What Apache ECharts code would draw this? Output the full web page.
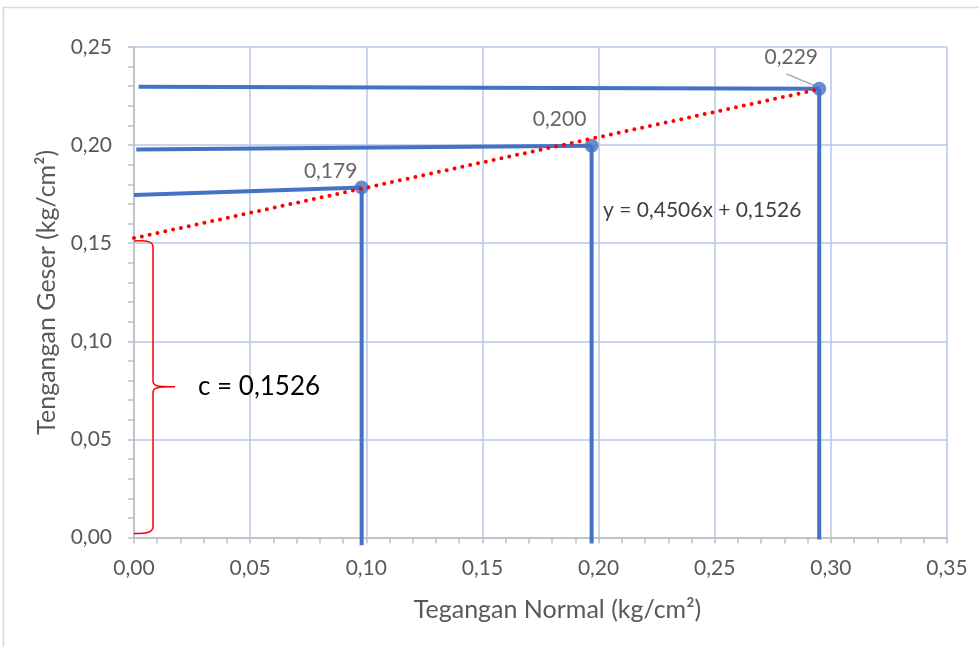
<!DOCTYPE html>
<html>
<head>
<meta charset="utf-8">
<script src="https://cdn.jsdelivr.net/npm/echarts@6/dist/echarts.min.js"></script>
<style>
  html, body { margin: 0; padding: 0; background: #fff; }
  #chart { width: 979px; height: 647px; }
</style>
</head>
<body>
<div id="chart"></div>
<script>
// titik data (tegangan normal, tegangan geser)
var pointX = [0.098, 0.197, 0.295];
var pointY = [0.1784, 0.1997, 0.2287];
var pointLabels = ['0,179', '0,200', '0,229'];
// garis bantu horizontal mulai dari sumbu y
var hStartX = [0.0, 0.001, 0.002];
var hStartY = [0.1746, 0.1977, 0.2297];
// garis bantu vertikal turun sampai sedikit di bawah sumbu x
var vEndY = [-0.004, -0.003, -0.001];
// garis trend (linear)
var trendX = [0.0, 0.295];
var trendY = [0.1526, 0.2285];
// kurung kurawal untuk c
var braceRange = [0.0025, 0.1526];
var cText = 'c = 0,1526';
var eqText = 'y = 0,4506x + 0,1526';
// garis penunjuk label 0,229
var leader = [[0.2808, 0.2363], [0.2933, 0.2302]];

var blue = '#4472C4';
var fontName = 'Lato, "Open Sans", sans-serif';
var comma = function (v) { return v.toFixed(2).replace('.', ','); };

var chart = echarts.init(document.getElementById('chart'));

var series = [];
for (var i = 0; i < pointX.length; i++) {
    series.push({
        type: 'line', silent: true, symbol: 'none', clip: false, z: 2,
        lineStyle: { color: blue, width: 4 },
        data: [[hStartX[i], hStartY[i]], [pointX[i], pointY[i]]]
    });
    series.push({
        type: 'line', silent: true, symbol: 'none', clip: false, z: 2,
        lineStyle: { color: blue, width: 4 },
        data: [[pointX[i], pointY[i]], [pointX[i], vEndY[i]]]
    });
}
// titik dengan label
var labelOffsets = [[-31, -16], [-32, -26], [-28, -32]];
series.push({
    type: 'scatter', symbol: 'circle', symbolSize: 14, z: 3,
    itemStyle: { color: blue },
    data: pointX.map(function (x, i) {
        return {
            value: [x, pointY[i]],
            label: {
                show: true, position: 'inside', offset: labelOffsets[i],
                formatter: pointLabels[i], color: '#404040', fontSize: 21, fontFamily: fontName
            }
        };
    })
});
// garis penunjuk
series.push({
    type: 'line', silent: true, symbol: 'none', z: 3,
    lineStyle: { color: '#a6a6a6', width: 1.5 },
    data: leader
});
// trendline
series.push({
    type: 'line', silent: true, symbol: 'none', z: 5, clip: false,
    lineStyle: { color: '#ff0000', width: 4, type: [0, 8], cap: 'round' },
    data: trendX.map(function (x, i) { return [x, trendY[i]]; })
});
// kurung kurawal + teks c
series.push({
    type: 'custom', silent: true, z: 4,
    data: [[0, braceRange[0], braceRange[1]]],
    renderItem: function (params, api) {
        var top = api.coord([api.value(0), api.value(2)]);
        var bot = api.coord([api.value(0), api.value(1)]);
        var x0 = top[0], yt = top[1] + 3, yb = bot[1];
        var ym = (yt + yb) / 2;
        var s = x0 + 19, t = x0 + 41;
        var d = 'M' + x0 + ',' + yt +
            ' C' + (x0 + 15) + ',' + (yt - 1) + ' ' + s + ',' + (yt + 1) + ' ' + s + ',' + (yt + 6) +
            ' L' + s + ',' + (ym - 6) +
            ' C' + s + ',' + (ym - 1) + ' ' + (s + 3) + ',' + ym + ' ' + t + ',' + ym +
            ' C' + (s + 3) + ',' + ym + ' ' + s + ',' + (ym + 1) + ' ' + s + ',' + (ym + 6) +
            ' L' + s + ',' + (yb - 6) +
            ' C' + s + ',' + (yb - 1) + ' ' + (x0 + 15) + ',' + (yb + 1) + ' ' + x0 + ',' + (yb + 1);
        return {
            type: 'group',
            children: [{
                type: 'path',
                shape: { pathData: d },
                style: { fill: null, stroke: '#ff0000', lineWidth: 1.5 }
            }, {
                type: 'text',
                style: {
                    text: cText, x: t + 23, y: ym, verticalAlign: 'middle',
                    fill: '#000', fontSize: 26, fontFamily: fontName
                }
            }]
        };
    }
});

var axisText = { color: '#595959', fontSize: 21, fontFamily: fontName };
var nameText = { color: '#595959', fontSize: 25, fontFamily: fontName };

chart.setOption({
    backgroundColor: '#fff',
    animation: false,
    grid: { left: 134, right: 32, top: 47, bottom: 109.5 },
    xAxis: {
        type: 'value', min: 0, max: 0.35, interval: 0.05,
        name: 'Tegangan Normal (kg/cm²)', nameLocation: 'middle', nameGap: 60,
        nameTextStyle: Object.assign({ padding: [0, 0, 0, 34] }, nameText),
        axisLine: { show: true, onZero: false, lineStyle: { color: '#bfbfbf', width: 1.5 } },
        axisTick: { show: true, length: 6, lineStyle: { color: '#bfbfbf', width: 1.5 } },
        minorTick: { show: true, splitNumber: 5, length: 6, lineStyle: { color: '#bfbfbf', width: 1.5 } },
        axisLabel: Object.assign({ margin: 20, formatter: comma }, axisText),
        splitLine: { show: true, lineStyle: { color: '#b4c7e7', width: 1.5 } }
    },
    yAxis: {
        type: 'value', min: 0, max: 0.25, interval: 0.05,
        name: 'Tengangan Geser (kg/cm²)', nameLocation: 'middle', nameGap: 74,
        nameTextStyle: nameText,
        axisLine: { show: true, onZero: false, lineStyle: { color: '#bfbfbf', width: 1.5 } },
        axisTick: { show: true, length: 6, lineStyle: { color: '#bfbfbf', width: 1.5 } },
        minorTick: { show: true, splitNumber: 5, length: 6, lineStyle: { color: '#bfbfbf', width: 1.5 } },
        axisLabel: Object.assign({ margin: 22, formatter: comma }, axisText),
        splitLine: { show: true, lineStyle: { color: '#b4c7e7', width: 1.5 } }
    },
    graphic: [{
        type: 'rect', silent: true, z: -10,
        shape: { x: 3.5, y: 7.5, width: 1000, height: 700 },
        style: { fill: null, stroke: '#d9d9d9', lineWidth: 1.5 }
    }, {
        type: 'text', left: 603, top: 200, silent: true,
        style: { text: eqText, fill: '#404040', fontSize: 21, fontFamily: fontName }
    }],
    series: series
});
</script>
</body>
</html>
